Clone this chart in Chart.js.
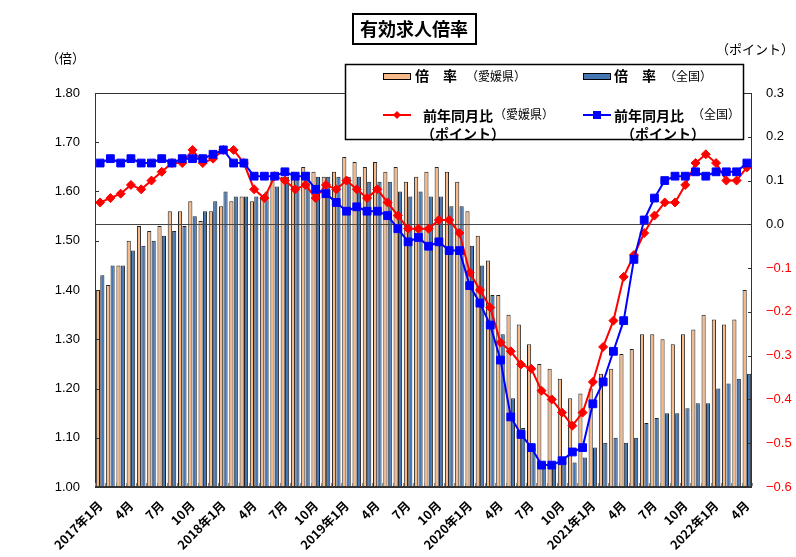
<!DOCTYPE html>
<html>
<head>
<meta charset="utf-8">
<script src="https://cdn.jsdelivr.net/npm/chart.js@4.4.0/dist/chart.umd.min.js"></script>
<style>
  html, body { margin: 0; padding: 0; background: #fff; }
  #wrap { width: 796px; height: 557px; position: relative; }
</style>
</head>
<body>
<div id="wrap"><canvas id="ratioChart" width="796" height="557"></canvas></div>
<script>
// 月（2017年1月〜2022年4月）
var months = [
  '2017年1月', '2月', '3月', '4月', '5月', '6月', '7月', '8月', '9月', '10月', '11月', '12月',
  '2018年1月', '2月', '3月', '4月', '5月', '6月', '7月', '8月', '9月', '10月', '11月', '12月',
  '2019年1月', '2月', '3月', '4月', '5月', '6月', '7月', '8月', '9月', '10月', '11月', '12月',
  '2020年1月', '2月', '3月', '4月', '5月', '6月', '7月', '8月', '9月', '10月', '11月', '12月',
  '2021年1月', '2月', '3月', '4月', '5月', '6月', '7月', '8月', '9月', '10月', '11月', '12月',
  '2022年1月', '2月', '3月', '4月'
];

// 倍率（愛媛県）
var ehimeRatio = [
  1.40, 1.41, 1.45, 1.50, 1.53, 1.52, 1.53, 1.56, 1.56, 1.58, 1.54, 1.56,
  1.57, 1.58, 1.59, 1.58, 1.59, 1.63, 1.63, 1.64, 1.65, 1.64, 1.63, 1.64,
  1.67, 1.66, 1.65, 1.66, 1.64, 1.65, 1.62, 1.63, 1.64, 1.65, 1.64, 1.62,
  1.56, 1.51, 1.46, 1.39, 1.35, 1.33, 1.29, 1.25, 1.24, 1.22, 1.18, 1.19,
  1.20, 1.23, 1.24, 1.27, 1.28, 1.31, 1.31, 1.30, 1.29, 1.31, 1.32, 1.35,
  1.34, 1.33, 1.34, 1.40
];

// 倍率（全国）
var nationalRatio = [
  1.43, 1.45, 1.45, 1.48, 1.49, 1.50, 1.51, 1.52, 1.53, 1.55, 1.56, 1.58,
  1.60, 1.59, 1.59, 1.59, 1.60, 1.61, 1.63, 1.63, 1.64, 1.63, 1.63, 1.63,
  1.63, 1.63, 1.62, 1.62, 1.62, 1.60, 1.59, 1.60, 1.59, 1.59, 1.57, 1.57,
  1.49, 1.45, 1.39, 1.31, 1.18, 1.12, 1.08, 1.05, 1.04, 1.05, 1.05, 1.06,
  1.08, 1.09, 1.10, 1.09, 1.10, 1.13, 1.14, 1.15, 1.15, 1.16, 1.17, 1.17,
  1.20, 1.21, 1.22, 1.23
];

// 前年同月比（愛媛県・ポイント）
var ehimeYoY = [
  0.05, 0.06, 0.07, 0.09, 0.08, 0.10, 0.12, 0.14, 0.14, 0.17, 0.14, 0.15,
  0.17, 0.17, 0.14, 0.08, 0.06, 0.11, 0.10, 0.08, 0.09, 0.06, 0.09, 0.08,
  0.10, 0.08, 0.06, 0.08, 0.05, 0.02, -0.01, -0.01, -0.01, 0.01, 0.01, -0.02,
  -0.11, -0.15, -0.19, -0.27, -0.29, -0.32, -0.33, -0.38, -0.40, -0.43, -0.46, -0.43,
  -0.36, -0.28, -0.22, -0.12, -0.07, -0.02, 0.02, 0.05, 0.05, 0.09, 0.14, 0.16,
  0.14, 0.10, 0.10, 0.13
];

// 前年同月比（全国・ポイント）
var nationalYoY = [
  0.14, 0.15, 0.14, 0.15, 0.14, 0.14, 0.15, 0.14, 0.15, 0.15, 0.15, 0.16,
  0.17, 0.14, 0.14, 0.11, 0.11, 0.11, 0.12, 0.11, 0.11, 0.08, 0.07, 0.05,
  0.03, 0.04, 0.03, 0.03, 0.02, -0.01, -0.04, -0.03, -0.05, -0.04, -0.06, -0.06,
  -0.14, -0.18, -0.23, -0.31, -0.44, -0.48, -0.51, -0.55, -0.55, -0.54, -0.52, -0.51,
  -0.41, -0.36, -0.29, -0.22, -0.08, 0.01, 0.06, 0.10, 0.11, 0.11, 0.12, 0.11,
  0.12, 0.12, 0.12, 0.14
];

var FONT = "'Liberation Sans', 'Noto Sans CJK JP', sans-serif";
var JP = "'Noto Sans CJK JP', sans-serif";
var ORANGE = '#F5B98A';
var BLUE = '#4677B5';

function fmtPoint(v) {
  if (Math.abs(v) < 1e-9) return '0.0';
  var s = Math.abs(v).toFixed(1);
  return v < 0 ? '\u2212' + s : s;
}

var decor = {
  id: 'decor',
  beforeDatasetDraw: function (chart, args) {
    // 0ポイントの横線（棒の上、折れ線の下）
    if (args.index !== 2) return;
    var ctx = chart.ctx, a = chart.chartArea;
    var y = Math.round(chart.scales.y1.getPixelForValue(0)) + 0.5;
    ctx.save();
    ctx.strokeStyle = '#444';
    ctx.lineWidth = 1;
    ctx.beginPath();
    ctx.moveTo(a.left, y);
    ctx.lineTo(a.right, y);
    ctx.stroke();
    ctx.restore();
  },
  afterDraw: function (chart) {
    var ctx = chart.ctx, a = chart.chartArea;
    var xs = chart.scales.x, ys = chart.scales.y, ys1 = chart.scales.y1;
    ctx.save();

    // 枠
    ctx.strokeStyle = '#333';
    ctx.lineWidth = 1;
    ctx.strokeRect(a.left + 0.5, a.top + 0.5, a.right - a.left - 1, a.bottom - a.top);
    ctx.lineWidth = 2;
    ctx.beginPath();
    ctx.moveTo(a.left, a.bottom);
    ctx.lineTo(a.right, a.bottom);
    ctx.stroke();

    // 目盛り（内向き）
    ctx.lineWidth = 1;
    ys.ticks.forEach(function (t) {
      var y = Math.round(ys.getPixelForValue(t.value)) + 0.5;
      ctx.beginPath(); ctx.moveTo(a.left, y); ctx.lineTo(a.left + 4, y); ctx.stroke();
    });
    ys1.ticks.forEach(function (t) {
      var y = Math.round(ys1.getPixelForValue(t.value)) + 0.5;
      ctx.beginPath(); ctx.moveTo(a.right - 4, y); ctx.lineTo(a.right, y); ctx.stroke();
    });
    ctx.strokeStyle = '#888';
    var half = (a.right - a.left) / months.length / 2;
    for (var i = 0; i <= months.length; i++) {
      var x = Math.round(xs.getPixelForValue(Math.min(i, months.length - 1)) + (i === months.length ? half : -half)) + 0.5;
      ctx.beginPath(); ctx.moveTo(x, a.bottom - 1); ctx.lineTo(x, a.bottom - 4); ctx.stroke();
    }

    // タイトル
    ctx.font = 'bold 18px ' + JP;
    ctx.fillStyle = '#000';
    ctx.textBaseline = 'middle';
    ctx.textAlign = 'center';
    ctx.fillText('有効求人倍率', 414, 29);
    ctx.strokeStyle = '#000';
    ctx.lineWidth = 2;
    ctx.strokeRect(353, 14, 123, 30);

    // 単位
    ctx.font = '13px ' + JP;
    ctx.textAlign = 'left';
    ctx.fillText('（倍）', 46, 58);
    ctx.textAlign = 'right';
    ctx.fillText('（ポイント）', 794, 49);

    // 凡例
    ctx.fillStyle = '#fff';
    ctx.fillRect(345, 64, 399, 76);
    ctx.strokeStyle = '#000';
    ctx.lineWidth = 1.5;
    ctx.strokeRect(345.5, 64.5, 398, 75);

    ctx.lineWidth = 1;
    ctx.fillStyle = ORANGE; ctx.fillRect(383.5, 73.5, 27, 6); ctx.strokeRect(383.5, 73.5, 27, 6);
    ctx.fillStyle = BLUE; ctx.fillRect(583.5, 73.5, 27, 6); ctx.strokeRect(583.5, 73.5, 27, 6);

    ctx.lineWidth = 2;
    ctx.strokeStyle = '#FF0000'; ctx.fillStyle = '#FF0000';
    ctx.beginPath(); ctx.moveTo(383, 115); ctx.lineTo(411, 115); ctx.stroke();
    ctx.beginPath(); ctx.moveTo(397, 111); ctx.lineTo(401, 115); ctx.lineTo(397, 119); ctx.lineTo(393, 115); ctx.closePath(); ctx.fill();
    ctx.strokeStyle = '#0000FF'; ctx.fillStyle = '#0000FF';
    ctx.beginPath(); ctx.moveTo(583, 115); ctx.lineTo(611, 115); ctx.stroke();
    ctx.fillRect(593, 111, 8, 8);

    ctx.fillStyle = '#000';
    ctx.textAlign = 'left';
    ctx.font = 'bold 14px ' + JP;
    ctx.fillText('倍　率', 415, 76);
    ctx.fillText('倍　率', 614, 76);
    ctx.fillText('前年同月比', 423, 116);
    ctx.fillText('前年同月比', 614, 116);
    ctx.fillText('（ポイント）', 421, 134);
    ctx.fillText('（ポイント）', 621, 134);
    ctx.font = '12px ' + JP;
    ctx.fillText('（愛媛県）', 466, 76);
    ctx.fillText('（全国）', 664, 76);
    ctx.fillText('（愛媛県）', 494, 114);
    ctx.fillText('（全国）', 692, 114);

    ctx.restore();
  }
};

document.addEventListener('DOMContentLoaded', function () {
  var ctx = document.getElementById('ratioChart').getContext('2d');

  var chartData = {
    labels: months,
    datasets: [{
      type: 'bar',
      label: '倍率（愛媛県）',
      data: ehimeRatio,
      backgroundColor: ORANGE,
      borderColor: '#222',
      borderWidth: 1,
      categoryPercentage: 0.86,
      barPercentage: 0.94,
      yAxisID: 'y',
      order: 3
    }, {
      type: 'bar',
      label: '倍率（全国）',
      data: nationalRatio,
      backgroundColor: BLUE,
      borderColor: '#222',
      borderWidth: 1,
      categoryPercentage: 0.86,
      barPercentage: 0.94,
      yAxisID: 'y',
      order: 3
    }, {
      type: 'line',
      label: '前年同月比（愛媛県）',
      data: ehimeYoY,
      borderColor: '#FF0000',
      backgroundColor: '#FF0000',
      borderWidth: 2,
      pointStyle: 'rectRot',
      pointRadius: 4.5,
      pointBorderWidth: 1,
      tension: 0,
      yAxisID: 'y1',
      order: 2
    }, {
      type: 'line',
      label: '前年同月比（全国）',
      data: nationalYoY,
      borderColor: '#0000FF',
      backgroundColor: '#0000FF',
      borderWidth: 2,
      pointStyle: 'rect',
      pointRadius: 5.5,
      pointBorderWidth: 1,
      tension: 0,
      yAxisID: 'y1',
      order: 1
    }]
  };

  var chartOptions = {
    responsive: false,
    animation: false,
    layout: { padding: { top: 93, left: 0, right: 0, bottom: 0 } },
    plugins: {
      legend: { display: false },
      tooltip: { enabled: false },
      title: { display: false }
    },
    scales: {
      x: {
        grid: { display: false },
        border: { display: false },
        ticks: {
          autoSkip: false,
          minRotation: 45,
          maxRotation: 45,
          padding: 3,
          color: '#000',
          font: { family: JP, size: 12.5, weight: 'bold' },
          callback: function (value, index) {
            return index % 3 === 0 ? months[index] : '';
          }
        },
        afterFit: function (scale) { scale.height = 70; }
      },
      y: {
        position: 'left',
        min: 1.0,
        max: 1.8,
        grid: { display: false },
        border: { display: false },
        ticks: {
          stepSize: 0.1,
          padding: 7,
          color: '#000',
          font: { family: FONT, size: 13 },
          callback: function (v) { return v.toFixed(2); }
        },
        afterFit: function (scale) { scale.width = 95; }
      },
      y1: {
        position: 'right',
        min: -0.6,
        max: 0.3,
        grid: { display: false },
        border: { display: false },
        ticks: {
          stepSize: 0.1,
          padding: 6,
          font: { family: FONT, size: 13 },
          color: function (c) { return c.tick.value < -1e-9 ? '#FF0000' : '#000'; },
          callback: function (v) { return fmtPoint(v); }
        },
        afterFit: function (scale) { scale.width = 44; }
      }
    }
  };

  var ratioChart = new Chart(ctx, {
    data: chartData,
    options: chartOptions,
    plugins: [decor]
  });
});
</script>
</body>
</html>
